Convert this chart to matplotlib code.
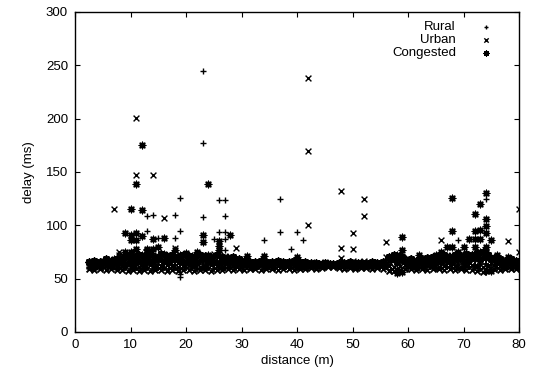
import matplotlib
matplotlib.use("Agg")
import matplotlib.pyplot as plt

plt.rcParams['font.family'] = ['Liberation Sans', 'DejaVu Sans']

# ---- data ----
band_x = [3, 4, 5, 6, 7, 8, 9, 10, 11, 12,
          13, 14, 15, 16, 17, 18, 19, 20, 21, 22,
          23, 24, 25, 26, 27, 28, 29, 30, 31, 32,
          33, 34, 35, 36, 37, 38, 39, 40, 41, 42,
          43, 44, 45, 46, 47, 48, 49, 50, 51, 52,
          53, 54, 55, 56, 57, 58, 59, 60, 61, 62,
          63, 64, 65, 66, 67, 68, 69, 70, 71, 72,
          73, 74, 75, 76, 77, 78, 79, 80]
band_x_half = [2.5, 3.5, 4.5, 5.5, 6.5, 7.5, 8.5, 9.5, 10.5, 11.5,
               12.5, 13.5, 14.5, 15.5, 16.5, 17.5, 18.5, 19.5, 20.5, 21.5,
               22.5, 23.5, 24.5, 25.5, 26.5, 27.5, 28.5, 29.5, 30.5, 31.5,
               32.5, 33.5, 34.5, 35.5, 36.5, 37.5, 38.5, 39.5, 40.5, 41.5,
               42.5, 43.5, 44.5, 45.5, 46.5, 47.5, 48.5, 49.5, 50.5, 51.5,
               52.5, 53.5, 54.5, 55.5, 56.5, 57.5, 58.5, 59.5, 60.5, 61.5,
               62.5, 63.5, 64.5, 65.5, 66.5, 67.5, 68.5, 69.5, 70.5, 71.5,
               72.5, 73.5, 74.5, 75.5, 76.5, 77.5, 78.5, 79.5]

rural_band_lo = [60, 61, 60, 60, 61, 60, 60, 59, 60, 59,
                 60, 59, 60, 60, 59, 60, 59, 60, 60, 59,
                 60, 60, 59, 60, 60, 61, 60, 60, 61, 60,
                 61, 60, 61, 60, 61, 61, 60, 60, 61, 60,
                 61, 60, 61, 62, 62, 61, 60, 61, 60, 61,
                 61, 62, 61, 61, 58, 56, 57, 60, 61, 60,
                 60, 61, 60, 60, 61, 60, 60, 60, 61, 60,
                 59, 56, 58, 60, 60, 61, 60, 60]
rural_band_hi = [63, 63, 64, 63, 63, 64, 63, 64, 63, 64,
                 63, 64, 63, 64, 63, 63, 64, 63, 64, 63,
                 64, 63, 64, 63, 63, 64, 63, 63, 64, 63,
                 63, 64, 63, 63, 64, 63, 63, 64, 63, 64,
                 63, 63, 64, 62, 62, 63, 63, 64, 63, 63,
                 64, 63, 63, 63, 66, 68, 67, 64, 63, 64,
                 63, 64, 63, 64, 64, 63, 64, 63, 64, 63,
                 64, 64, 63, 64, 63, 63, 64, 63]
urban_band = [62, 61, 62, 63, 62, 61, 62, 63, 62, 61,
              62, 63, 61, 62, 63, 62, 61, 62, 63, 62,
              61, 62, 63, 62, 61, 62, 62, 63, 62, 61,
              62, 63, 62, 61, 62, 62, 63, 62, 61, 62,
              62, 63, 62, 62, 62, 62, 63, 62, 61, 62,
              63, 62, 62, 63, 62, 61, 62, 63, 62, 61,
              62, 63, 62, 61, 62, 63, 62, 61, 62, 63,
              62, 61, 62, 63, 62, 61, 62, 62]
urban_band2 = [59, 58, 59, 58, 59, 58, 58, 57, 58, 57,
               58, 57, 58, 58, 57, 58, 57, 58, 58, 57,
               58, 58, 57, 58, 58, 59, 58, 59, 58, 59,
               59, 58, 59, 59, 58, 59, 59, 58, 59, 59,
               60, 59, 60, 61, 61, 60, 59, 60, 59, 60,
               60, 59, 60, 59, 57, 57, 58, 59, 59, 58,
               59, 58, 59, 59, 58, 59, 58, 59, 58, 58,
               57, 56, 58, 59, 58, 59, 59, 59]
congested_band = [64, 63, 65, 64, 66, 65, 64, 66, 67, 66,
                  67, 66, 68, 67, 66, 68, 67, 66, 67, 66,
                  68, 67, 66, 65, 67, 66, 65, 64, 65, 64,
                  64, 65, 64, 65, 64, 64, 65, 64, 65, 64,
                  64, 64, 65, 64, 63, 63, 64, 64, 65, 64,
                  64, 65, 64, 64, 68, 66, 70, 65, 66, 65,
                  66, 65, 66, 67, 68, 67, 68, 67, 68, 69,
                  68, 70, 68, 66, 65, 66, 65, 66]
congested_band2 = [66, 67, 66, 68, 67, 68, 69, 70, 71, 72,
                   71, 72, 70, 73, 71, 72, 70, 72, 71, 70,
                   72, 71, 70, 72, 70, 69, 70, 68, 67, 66,
                   66, 67, 66, 66, 67, 66, 66, 67, 66, 66,
                   65, 65, 64, 64, 64, 65, 65, 66, 65, 65,
                   65, 66, 65, 66, 70, 72, 71, 67, 68, 67,
                   68, 69, 70, 71, 72, 70, 72, 71, 73, 72,
                   74, 75, 72, 69, 68, 67, 68, 67]

rural_x = [23, 23, 19, 26, 27, 13, 14, 18, 23, 27,
           37, 13, 19, 26, 27, 15, 18, 25, 27, 27,
           34, 37, 40, 41, 39, 74, 69, 19, 19, 12,
           16, 21, 24, 28, 30, 9, 14, 17, 22, 26,
           29, 35, 43, 44, 66, 70, 72, 76, 78, 63, 80]
rural_y = [245, 177, 126, 124, 124, 109, 110, 110, 108, 109,
           125, 95, 95, 94, 94, 88, 88, 87, 87, 77,
           86, 94, 94, 86, 78, 125, 86, 52, 54, 70,
           72, 68, 71, 69, 67, 66, 74, 70, 73, 75,
           68, 66, 66, 65, 68, 70, 69, 67, 66, 66, 67]

urban_x = [11, 11, 14, 42, 42, 7, 16, 29, 48, 52,
           52, 42, 50, 48, 50, 56, 48, 50, 52, 56,
           80, 66, 78, 80, 8, 9, 13, 17, 19, 21,
           25, 27, 31, 45, 60, 64, 67, 71, 76, 8, 18]
urban_y = [201, 147, 147, 238, 170, 115, 107, 79, 132, 125,
           109, 100, 93, 79, 78, 84, 69, 67, 67, 70,
           115, 86, 85, 75, 72, 70, 71, 72, 70, 69,
           73, 71, 68, 66, 69, 70, 72, 70, 68, 75, 79]

congested_x = [12, 11, 24, 10, 12, 9, 10, 11, 12, 10,
               11, 14, 16, 23, 23, 28, 26, 31, 34, 40,
               59, 59, 68, 74, 73, 72, 74, 74, 68, 72,
               73, 74, 71, 72, 73, 75, 67, 68, 70, 72,
               69, 74, 75, 74, 74, 74, 11, 14, 15, 13,
               18, 20, 22, 26, 26, 24, 58, 58, 58, 59,
               57, 62, 66, 65, 73, 76, 78, 10, 12, 16,
               17, 19, 21, 7, 5, 9, 13]
congested_y = [175, 139, 139, 115, 114, 93, 91, 93, 90, 86,
               86, 87, 88, 91, 84, 91, 85, 71, 71, 70,
               89, 77, 126, 130, 120, 111, 106, 99, 95, 95,
               96, 93, 87, 87, 87, 86, 80, 80, 80, 80,
               75, 57, 57, 80, 75, 70, 78, 78, 80, 77,
               77, 74, 75, 77, 81, 72, 72, 58, 55, 56,
               70, 72, 75, 72, 75, 72, 70, 75, 72, 73,
               70, 72, 71, 68, 67, 75, 78]

# ---- figure ----
fig = plt.figure(figsize=(5.37, 3.73), dpi=100)
ax = fig.add_axes([75 / 537, 41 / 373, 444 / 537, 320 / 373])

ms = 22
ast = (8, 2, 0)
kw = dict(c='black', linewidths=1.0)
kb = dict(c='black', linewidths=1.35)

ax.scatter(band_x, rural_band_lo, marker='+', s=ms, **kb)
ax.scatter(band_x, rural_band_hi, marker='+', s=ms, **kb)
ax.scatter(rural_x, rural_y, marker='+', s=ms, label='Rural', **kw)
ax.scatter(band_x_half, urban_band, marker='x', s=ms * 0.8, **kb)
ax.scatter(band_x_half, urban_band2, marker='x', s=ms * 0.8, **kb)
ax.scatter(urban_x, urban_y, marker='x', s=ms * 0.8, label='Urban', **kw)
ax.scatter(band_x, congested_band, marker=ast, s=ms, **kb)
ax.scatter(band_x_half, congested_band2, marker=ast, s=ms, **kb)
ax.scatter(congested_x, congested_y, marker=ast, s=ms, label='Congested', **kw)

ax.set_xlim(0, 80)
ax.set_ylim(0, 300)
ax.set_xticks([0, 10, 20, 30, 40, 50, 60, 70, 80])
ax.set_yticks([0, 50, 100, 150, 200, 250, 300])
ax.tick_params(direction='in', top=True, right=True, length=3.5, width=0.8,
               labelsize=9.5, pad=5)
for sp in ax.spines.values():
    sp.set_linewidth(1.0)

ax.set_xlabel('distance (m)', fontsize=9.5, labelpad=3)
ax.set_ylabel('delay (ms)', fontsize=9.5, labelpad=8)

ax.legend(loc='upper right', bbox_to_anchor=(0.968, 1.0), frameon=False,
          markerfirst=False, fontsize=9.5, handletextpad=1.5, labelspacing=0.05,
          borderaxespad=0.3, handlelength=1.5, markerscale=0.75)

fig.savefig('out.png', dpi=100)
